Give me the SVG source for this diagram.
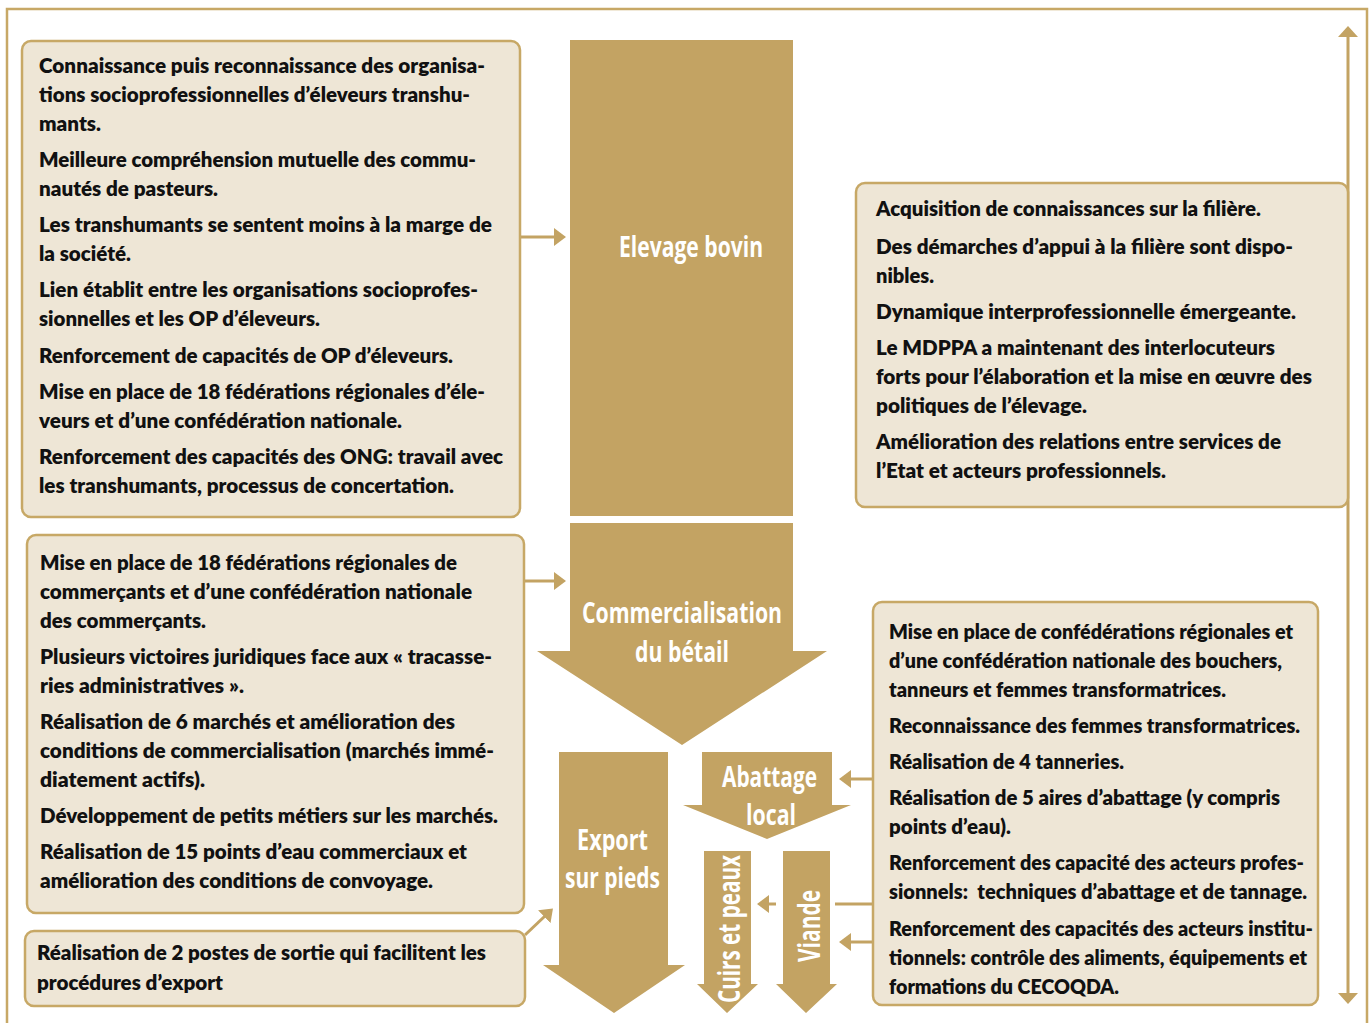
<svg xmlns="http://www.w3.org/2000/svg" width="1370" height="1023" viewBox="0 0 1370 1023">
  <style>
    .box { fill: #EEE6D6; stroke: #C7A866; stroke-width: 2.5; }
    .flow { fill: #C3A363; }
    .t { font-family: Lato, "Open Sans", "Liberation Sans", sans-serif; font-weight: 800; font-size: 21px; fill: #111111; }
    .lbl { font-family: "Open Sans", "Liberation Sans", sans-serif; font-weight: 700; font-size: 28px; fill: #FFFFFF; text-anchor: middle; }
    .vlbl { font-size: 30px; }
    .wire { stroke: #C3A363; stroke-width: 3; fill: none; }
    .frame { stroke: #C7A866; stroke-width: 2.5; fill: none; }
  </style>
  <defs>
    <marker id="head" markerUnits="userSpaceOnUse" markerWidth="13" markerHeight="19" refX="1" refY="9" orient="auto" viewBox="0 0 13 18">
      <path d="M0,0 L12,9 L0,18 z" fill="#C3A363"/>
    </marker>
    <marker id="head2" markerUnits="userSpaceOnUse" markerWidth="12" markerHeight="21" refX="1" refY="10" orient="auto-start-reverse" viewBox="0 0 12 20">
      <path d="M0,0 L11,10 L0,20 z" fill="#C3A363"/>
    </marker>
  </defs>

  <rect x="0" y="0" width="1370" height="1023" fill="#FFFFFF"/>
  <!-- outer frame, open at the bottom -->
  <path class="frame" d="M7,1023 V9 H1367 V1023"/>

  <!-- connectors -->
  <g id="connectors">
    <line class="wire" x1="521" y1="237" x2="555" y2="237" marker-end="url(#head)"/>
    <line class="wire" x1="525" y1="581" x2="555" y2="581" marker-end="url(#head)"/>
    <line class="wire" x1="525" y1="935" x2="545" y2="916" marker-end="url(#head)"/>
    <line class="wire" x1="873" y1="779" x2="850" y2="779" marker-end="url(#head)"/>
    <line class="wire" x1="873" y1="942" x2="850" y2="942" marker-end="url(#head)"/>
    <line class="wire" x1="835" y1="904" x2="873" y2="904"/>
    <line class="wire" x1="776" y1="904" x2="768" y2="904" marker-end="url(#head)"/>
    <line class="wire" x1="1348" y1="36" x2="1348" y2="994" marker-start="url(#head2)" marker-end="url(#head2)"/>
  </g>

  <!-- flow of the cattle chain -->
  <g id="elevage">
    <rect class="flow" x="570" y="40" width="223" height="476"/>
    <text class="lbl" x="691" y="257" textLength="144" lengthAdjust="spacingAndGlyphs">Elevage bovin</text>
  </g>
  <g id="commercialisation">
    <path class="flow" d="M570,523 H793 V651 H827 L682,745 L537,651 H570 Z"/>
    <text class="lbl" x="682" y="623" textLength="200" lengthAdjust="spacingAndGlyphs">Commercialisation</text>
    <text class="lbl" x="682" y="662" textLength="94" lengthAdjust="spacingAndGlyphs">du bétail</text>
  </g>
  <g id="export">
    <path class="flow" d="M559,752 H668 V965 H685 L614,1013 L543,965 H559 Z"/>
    <text class="lbl" x="612.5" y="850" textLength="71" lengthAdjust="spacingAndGlyphs">Export</text>
    <text class="lbl" x="612.5" y="888" textLength="95" lengthAdjust="spacingAndGlyphs">sur pieds</text>
  </g>
  <g id="abattage">
    <path class="flow" d="M702,752 H832 V805 H851 L767,839 L683,805 H702 Z"/>
    <text class="lbl" x="769.5" y="787" textLength="95" lengthAdjust="spacingAndGlyphs">Abattage</text>
    <text class="lbl" x="771" y="825" textLength="50" lengthAdjust="spacingAndGlyphs">local</text>
  </g>
  <g id="cuirs">
    <path class="flow" d="M704,851 H751 V984 H758 L727,1013 L697,984 H704 Z"/>
    <text class="lbl vlbl" transform="translate(740,929) rotate(-90)" textLength="148" lengthAdjust="spacingAndGlyphs">Cuirs et peaux</text>
  </g>
  <g id="viande">
    <path class="flow" d="M783,851 H830 V984 H837 L806,1013 L776,984 H783 Z"/>
    <text class="lbl vlbl" transform="translate(820,926) rotate(-90)" textLength="72" lengthAdjust="spacingAndGlyphs">Viande</text>
  </g>

  <!-- outcome boxes -->
  <g id="box-eleveurs">
    <rect class="box" x="22" y="41" width="498" height="476" rx="9"/>
    <text class="t" x="39" y="73" textLength="446" lengthAdjust="spacingAndGlyphs">Connaissance puis reconnaissance des organisa-</text>
    <text class="t" x="39" y="102" textLength="431" lengthAdjust="spacingAndGlyphs">tions socioprofessionnelles d’éleveurs transhu-</text>
    <text class="t" x="39" y="131" textLength="62" lengthAdjust="spacingAndGlyphs">mants.</text>
    <text class="t" x="39" y="167" textLength="437" lengthAdjust="spacingAndGlyphs">Meilleure compréhension mutuelle des commu-</text>
    <text class="t" x="39" y="196" textLength="179" lengthAdjust="spacingAndGlyphs">nautés de pasteurs.</text>
    <text class="t" x="39" y="232" textLength="453" lengthAdjust="spacingAndGlyphs">Les transhumants se sentent moins à la marge de</text>
    <text class="t" x="39" y="261" textLength="92" lengthAdjust="spacingAndGlyphs">la société.</text>
    <text class="t" x="39" y="297" textLength="439" lengthAdjust="spacingAndGlyphs">Lien établit entre les organisations socioprofes-</text>
    <text class="t" x="39" y="326" textLength="281" lengthAdjust="spacingAndGlyphs">sionnelles et les OP d’éleveurs.</text>
    <text class="t" x="39" y="363" textLength="414" lengthAdjust="spacingAndGlyphs">Renforcement de capacités de OP d’éleveurs.</text>
    <text class="t" x="39" y="399" textLength="446" lengthAdjust="spacingAndGlyphs">Mise en place de 18 fédérations régionales d’éle-</text>
    <text class="t" x="39" y="428" textLength="363" lengthAdjust="spacingAndGlyphs">veurs et d’une confédération nationale.</text>
    <text class="t" x="39" y="464" textLength="464" lengthAdjust="spacingAndGlyphs">Renforcement des capacités des ONG: travail avec</text>
    <text class="t" x="39" y="493" textLength="415" lengthAdjust="spacingAndGlyphs">les transhumants, processus de concertation.</text>
  </g>

  <g id="box-commercants">
    <rect class="box" x="27" y="535" width="497" height="378" rx="9"/>
    <text class="t" x="40" y="570" textLength="417" lengthAdjust="spacingAndGlyphs">Mise en place de 18 fédérations régionales de</text>
    <text class="t" x="40" y="599" textLength="432" lengthAdjust="spacingAndGlyphs">commerçants et d’une confédération nationale</text>
    <text class="t" x="40" y="628" textLength="166" lengthAdjust="spacingAndGlyphs">des commerçants.</text>
    <text class="t" x="40" y="664" textLength="452" lengthAdjust="spacingAndGlyphs">Plusieurs victoires juridiques face aux « tracasse-</text>
    <text class="t" x="40" y="693" textLength="204" lengthAdjust="spacingAndGlyphs">ries administratives ».</text>
    <text class="t" x="40" y="729" textLength="415" lengthAdjust="spacingAndGlyphs">Réalisation de 6 marchés et amélioration des</text>
    <text class="t" x="40" y="758" textLength="454" lengthAdjust="spacingAndGlyphs">conditions de commercialisation (marchés immé-</text>
    <text class="t" x="40" y="787" textLength="165" lengthAdjust="spacingAndGlyphs">diatement actifs).</text>
    <text class="t" x="40" y="823" textLength="458" lengthAdjust="spacingAndGlyphs">Développement de petits métiers sur les marchés.</text>
    <text class="t" x="40" y="859" textLength="427" lengthAdjust="spacingAndGlyphs">Réalisation de 15 points d’eau commerciaux et</text>
    <text class="t" x="40" y="888" textLength="393" lengthAdjust="spacingAndGlyphs">amélioration des conditions de convoyage.</text>
  </g>

  <g id="box-export">
    <rect class="box" x="25" y="931" width="500" height="75" rx="9"/>
    <text class="t" x="37" y="960" textLength="449" lengthAdjust="spacingAndGlyphs">Réalisation de 2 postes de sortie qui facilitent les</text>
    <text class="t" x="37" y="990" textLength="186" lengthAdjust="spacingAndGlyphs">procédures d’export</text>
  </g>

  <g id="box-filiere">
    <rect class="box" x="856" y="183" width="492" height="324" rx="9"/>
    <text class="t" x="876" y="216" textLength="385" lengthAdjust="spacingAndGlyphs">Acquisition de connaissances sur la filière.</text>
    <text class="t" x="876" y="254" textLength="417" lengthAdjust="spacingAndGlyphs">Des démarches d’appui à la filière sont dispo-</text>
    <text class="t" x="876" y="283" textLength="58" lengthAdjust="spacingAndGlyphs">nibles.</text>
    <text class="t" x="876" y="319" textLength="420" lengthAdjust="spacingAndGlyphs">Dynamique interprofessionnelle émergeante.</text>
    <text class="t" x="876" y="355" textLength="399" lengthAdjust="spacingAndGlyphs">Le MDPPA a maintenant des interlocuteurs</text>
    <text class="t" x="876" y="384" textLength="436" lengthAdjust="spacingAndGlyphs">forts pour l’élaboration et la mise en œuvre des</text>
    <text class="t" x="876" y="413" textLength="211" lengthAdjust="spacingAndGlyphs">politiques de l’élevage.</text>
    <text class="t" x="876" y="449" textLength="405" lengthAdjust="spacingAndGlyphs">Amélioration des relations entre services de</text>
    <text class="t" x="876" y="478" textLength="290" lengthAdjust="spacingAndGlyphs">l’Etat et acteurs professionnels.</text>
  </g>

  <g id="box-abattage">
    <rect class="box" x="873" y="602" width="445" height="403" rx="9"/>
    <text class="t" x="889" y="639" textLength="404" lengthAdjust="spacingAndGlyphs">Mise en place de confédérations régionales et</text>
    <text class="t" x="889" y="668" textLength="393" lengthAdjust="spacingAndGlyphs">d’une confédération nationale des bouchers,</text>
    <text class="t" x="889" y="697" textLength="337" lengthAdjust="spacingAndGlyphs">tanneurs et femmes transformatrices.</text>
    <text class="t" x="889" y="733" textLength="411" lengthAdjust="spacingAndGlyphs">Reconnaissance des femmes transformatrices.</text>
    <text class="t" x="889" y="769" textLength="235" lengthAdjust="spacingAndGlyphs">Réalisation de 4 tanneries.</text>
    <text class="t" x="889" y="805" textLength="391" lengthAdjust="spacingAndGlyphs">Réalisation de 5 aires d’abattage (y compris</text>
    <text class="t" x="889" y="834" textLength="122" lengthAdjust="spacingAndGlyphs">points d’eau).</text>
    <text class="t" x="889" y="870" textLength="415" lengthAdjust="spacingAndGlyphs">Renforcement des capacité des acteurs profes-</text>
    <text class="t" x="889" y="899" textLength="418" lengthAdjust="spacingAndGlyphs">sionnels:&#160; techniques d’abattage et de tannage.</text>
    <text class="t" x="889" y="936" textLength="424" lengthAdjust="spacingAndGlyphs">Renforcement des capacités des acteurs institu-</text>
    <text class="t" x="889" y="965" textLength="418" lengthAdjust="spacingAndGlyphs">tionnels: contrôle des aliments, équipements et</text>
    <text class="t" x="889" y="994" textLength="230" lengthAdjust="spacingAndGlyphs">formations du CECOQDA.</text>
  </g>
</svg>
